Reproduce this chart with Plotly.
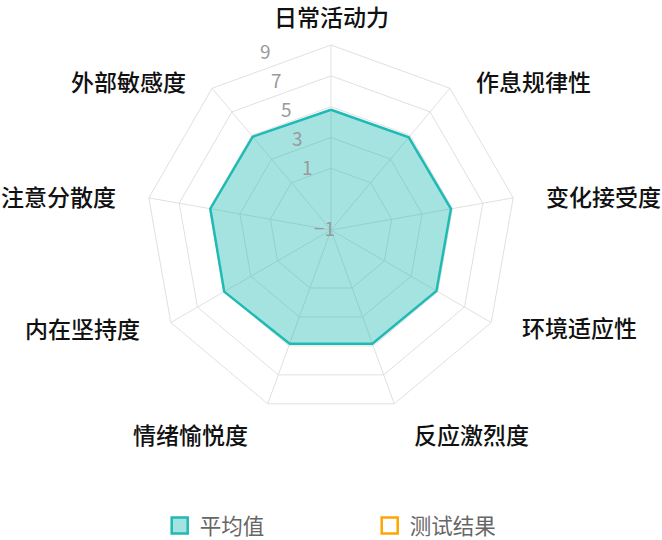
import math
import plotly.graph_objects as go

categories = ["日常活动力", "作息规律性", "变化接受度", "环境适应性", "反应激烈度",
              "情绪愉悦度", "内在坚持度", "注意分散度", "外部敏感度"]
avg_values = [4.8, 4.85, 4.9, 4.9, 4.85, 4.85, 5.0, 4.95, 4.9]
test_values = [None] * 9
tick_vals = [-3, 1, 3, 5, 7, 9]
tick_text = ["−1", "1", "3", "5", "7", "9"]
r_range = [-3, 9]

FONT = "Noto Sans CJK SC"
TEAL = "#1fbab4"
ORANGE = "#ffa500"

W, H = 662, 540
CX, CY, R = 331, 230, 185

fig = go.Figure()
fig.add_trace(go.Scatterpolar(
    r=avg_values + avg_values[:1], theta=categories + categories[:1],
    mode="lines", fill="toself", fillcolor="rgba(31,186,180,0.4)",
    line=dict(color=TEAL, width=2.5), name="平均值", showlegend=False,
))
fig.add_trace(go.Scatterpolar(
    r=test_values, theta=categories, mode="lines",
    line=dict(color=ORANGE, width=2), name="测试结果", showlegend=False,
))
# legend entries
fig.add_trace(go.Scatterpolar(
    r=[None], theta=[categories[0]], mode="markers", name="平均值",
    marker=dict(symbol="square", size=16, color="rgba(31,186,180,0.4)",
                line=dict(color=TEAL, width=2.5)),
))
fig.add_trace(go.Scatterpolar(
    r=[None], theta=[categories[0]], mode="markers", name="测试结果",
    marker=dict(symbol="square", size=16, color="rgba(0,0,0,0)",
                line=dict(color=ORANGE, width=2.5)),
))

annotations = []
# indicator names around the radar
n = len(categories)
rho_x = R + 20
rho_y = R + 10
for i, name in enumerate(categories):
    th = 2 * math.pi * i / n
    s, c = math.sin(th), math.cos(th)
    x = CX + rho_x * s
    if abs(c) > 0.9:
        y = CY - (R + 20) * c - math.copysign(11, c)
        if c > 0:
            y = max(y, 16)
    else:
        y = CY - rho_y * c
    if abs(s) < 0.1:
        xa = "center"
    elif s > 0:
        xa = "left"
        x += 12
    else:
        xa = "right"
        x -= 12
    annotations.append(dict(
        x=x / W, y=1 - y / H, xref="paper", yref="paper", text=name,
        showarrow=False, xanchor=xa, yanchor="middle", borderpad=0,
        font=dict(family=FONT, size=23, color="#111", weight=500),
    ))
# radial tick labels along a line at 110 degrees
lab_ang = math.radians(110)
for v, t in zip(tick_vals, tick_text):
    rr = R * (v - r_range[0]) / (r_range[1] - r_range[0]) + 6
    x = CX + rr * math.cos(lab_ang)
    y = CY - rr * math.sin(lab_ang)
    if v == r_range[0]:
        x -= 4
        y += 3
    annotations.append(dict(
        x=x / W, y=1 - y / H, xref="paper", yref="paper", text=t,
        showarrow=False, xanchor="center", yanchor="middle",
        font=dict(family=FONT, size=19, color="#9a9a9a"),
    ))

fig.update_layout(
    width=W, height=H,
    margin=dict(l=0, r=0, t=0, b=0, autoexpand=False),
    paper_bgcolor="white", plot_bgcolor="white",
    font=dict(family=FONT),
    annotations=annotations,
    polar=dict(
        bgcolor="white",
        gridshape="linear",
        domain=dict(x=[(CX - R) / W, (CX + R) / W],
                    y=[(H - CY - R) / H, (H - CY + R) / H]),
        angularaxis=dict(
            type="category", categoryarray=categories,
            rotation=90, direction="clockwise",
            showline=True, linecolor="#e0e0e0", linewidth=1,
            gridcolor="#e0e0e0", gridwidth=1,
            ticks="", showticklabels=False,
        ),
        radialaxis=dict(
            range=r_range, tickvals=tick_vals, ticktext=tick_text,
            showline=False, ticks="", showticklabels=False,
            gridcolor="#e0e0e0", gridwidth=1,
        ),
    ),
    legend=dict(
        orientation="h", x=(178.7 - 19) / W, xanchor="left",
        y=(H - 525.5) / H, yanchor="middle",
        entrywidth=165, itemsizing="trace",
        font=dict(family=FONT, size=21.5, color="#666"),
    ),
)

fig.write_html("out.html")
